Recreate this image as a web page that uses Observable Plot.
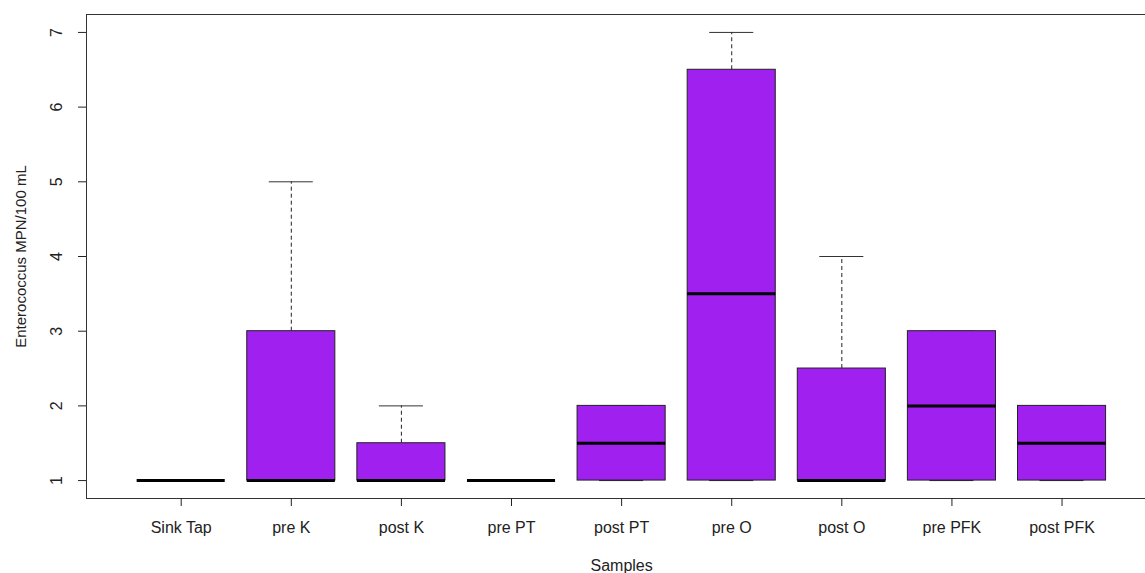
<!DOCTYPE html>
<html>
<head>
<meta charset="utf-8">
<script src="https://cdn.jsdelivr.net/npm/d3@7"></script>
<script src="https://cdn.jsdelivr.net/npm/@observablehq/plot@0.6"></script>
<style>
  html, body { margin: 0; padding: 0; background: #fff; overflow: hidden; }
  svg { display: block; }
</style>
</head>
<body>
<div id="chart"></div>
<script>
const categories = ["Sink Tap", "pre K", "post K", "pre PT", "post PT", "pre O", "post O", "pre PFK", "post PFK"];
const lowerWhisker = [1, 1, 1, 1, 1, 1, 1, 1, 1];
const q1 = [1, 1, 1, 1, 1, 1, 1, 1, 1];
const median = [1, 1, 1, 1, 1.5, 3.5, 1, 2, 1.5];
const q3 = [1, 3, 1.5, 1, 2, 6.5, 2.5, 3, 2];
const upperWhisker = [1, 5, 2, 1, 2, 7, 4, 3, 2];
const yTicks = [1, 2, 3, 4, 5, 6, 7];

const rows = categories.map((c, i) => ({
  i: i + 1, name: c,
  lo: lowerWhisker[i], q1: q1[i], med: median[i], q3: q3[i], hi: upperWhisker[i]
}));

const boxHalf = 0.4, stapleHalf = 0.2;
const xMin = 0.14, xMax = 9.758, yMin = 0.76, yMax = 7.24;
const font = "Liberation Sans, Arial, sans-serif";

const chart = Plot.plot({
  width: 1145,
  height: 573,
  marginLeft: 86,
  marginRight: 0,
  marginTop: 14,
  marginBottom: 75,
  style: { fontFamily: font, fontSize: "16px", color: "#222", background: "#fff" },
  x: { type: "linear", domain: [xMin, xMax] },
  y: { type: "linear", domain: [yMin, yMax] },
  marks: [
    // plot box (right side lies outside the picture)
    Plot.ruleY([yMax], { stroke: "#333", strokeWidth: 1 }),
    Plot.ruleY([yMin], { stroke: "#333", strokeWidth: 1 }),
    Plot.ruleX([xMin], { stroke: "#333", strokeWidth: 1 }),
    // whiskers
    Plot.ruleX(rows, { x: "i", y1: "q3", y2: "hi", stroke: "#222", strokeDasharray: "4,3", strokeWidth: 1 }),
    Plot.ruleX(rows, { x: "i", y1: "lo", y2: "q1", stroke: "#222", strokeDasharray: "4,3", strokeWidth: 1 }),
    // staples
    Plot.ruleY(rows, { y: "hi", x1: d => d.i - stapleHalf, x2: d => d.i + stapleHalf, stroke: "#333", strokeWidth: 1 }),
    Plot.ruleY(rows, { y: "lo", x1: d => d.i - stapleHalf, x2: d => d.i + stapleHalf, stroke: "#222", strokeWidth: 1 }),
    // boxes
    Plot.rect(rows, { x1: d => d.i - boxHalf, x2: d => d.i + boxHalf, y1: "q1", y2: "q3", fill: "#A020F0", stroke: "#222", strokeWidth: 1 }),
    // medians
    Plot.ruleY(rows, { y: "med", x1: d => d.i - boxHalf, x2: d => d.i + boxHalf, stroke: "#000", strokeWidth: 3 }),
    // axes
    Plot.axisY({ ticks: yTicks, tickFormat: d3.format("d"), tickSize: 8, tickPadding: 17, tickRotate: -90, label: null, stroke: "#222", fontSize: 16 }),
    Plot.axisX({ ticks: d3.range(1, categories.length + 1), tickFormat: d => categories[d - 1], tickSize: 8, tickPadding: 15, label: null, stroke: "#222", fontSize: 16 }),
    Plot.text(["Samples"], { frameAnchor: "bottom", dy: 72, fontSize: 16, fill: "#222", textAnchor: "middle", x: () => (xMin + 9.86) / 2 }),
    Plot.text(["Enterococcus MPN/100 mL"], { frameAnchor: "left", dx: -65, rotate: -90, textAnchor: "middle", fontSize: 15, fill: "#222" })
  ]
});
document.getElementById("chart").appendChild(chart);
</script>
</body>
</html>
